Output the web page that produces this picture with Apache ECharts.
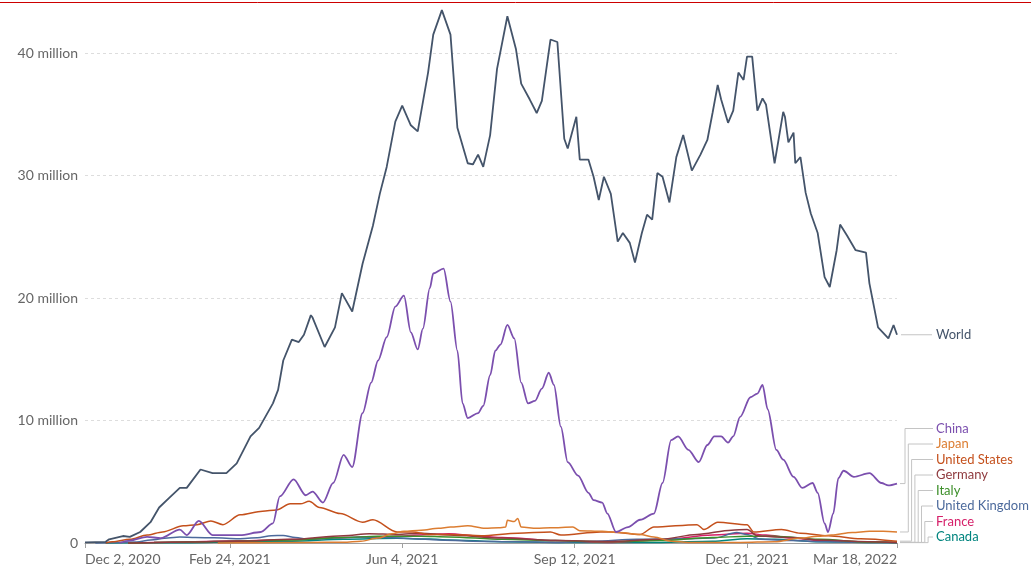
<!DOCTYPE html>
<html>
<head>
<meta charset="utf-8">
<script src="https://cdn.jsdelivr.net/npm/echarts/dist/echarts.min.js"></script>
<style>
    html, body { margin: 0; padding: 0; background: #fff; }
    #chart { width: 1031px; height: 570px; }
</style>
</head>
<body>
<div id="chart"></div>
<script>
// x values are days since Dec 2, 2020, y values are daily doses in millions
var tickDays = [0, 84, 184, 284, 384, 471];
var tickLabels = ['Dec 2, 2020', 'Feb 24, 2021', 'Jun 4, 2021', 'Sep 12, 2021', 'Dec 21, 2021', 'Mar 18, 2022'];
var yTicks = [0, 10, 20, 30, 40];

var world = [[0,0.05],[12,0.1],[14,0.3],[22,0.57],[26,0.5],[32,0.9],[38,1.7],[43,2.9],[49,3.7],[55,4.5],[59,4.5],
    [67,6.0],[74,5.7],[82,5.7],[88,6.5],[96,8.7],[101,9.4],[109,11.4],[112,12.5],[115,14.9],[120,16.6],[124,16.4],
    [127,17],[131,18.6],[132,18.4],[139,16],[145,17.6],[149,20.4],[155,18.9],[161,22.8],[167,25.9],[171,28.5],
    [175,30.7],[180,34.4],[184,35.7],[189,34.1],[193,33.6],[199,38.4],[202,41.5],[207,43.5],[212,41.5],[216,33.9],
    [222,31],[225,30.9],[228,31.7],[231,30.7],[235,33.3],[239,38.7],[245,43],[250,40.3],[253,37.5],[258,36.2],
    [262,35.1],[265,36.1],[270,41.1],[274,40.9],[278,33],[280,32.2],[285,34.8],[287,31.3],[292,31.3],[295,29.9],
    [298,28],[301,29.9],[305,28.5],[309,24.6],[312,25.3],[316,24.5],[319,22.9],[323,25.3],[326,26.8],[329,26.4],
    [332,30.2],[335,29.9],[339,27.8],[343,31.5],[347,33.3],[352,30.4],[357,31.7],[361,32.9],[364,35.1],[367,37.4],
    [369,36.2],[373,34.3],[376,35.3],[379,38.4],[382,37.8],[384,39.7],[387,39.7],[390,35.3],[393,36.3],[395,35.8],
    [400,31],[405,35.2],[406,34.8],[408,32.7],[411,33.5],[412,31],[415,31.5],[418,28.6],[421,26.9],[425,25.3],
    [429,21.7],[432,20.9],[436,23.9],[438,26],[442,25.1],[447,23.9],[453,23.7],[455,21.2],[460,17.6],[466,16.7],
    [469,17.8],[471,17]];

var china = [[20,0],[26,0.2],[36,0.5],[44,0.4],[55,1.1],[59,0.65],[66,1.8],[74,0.65],[90,0.65],[102,0.9],[109,1.6],
    [113,3.8],[121,5.2],[128,3.9],[132,4.2],[138,3.3],[144,4.9],[150,7.2],[155,6.2],[161,10.6],[166,13.1],[170,14.9],
    [175,16.8],[180,19.3],[185,20.2],[189,17.2],[193,15.8],[196,17.5],[200,20.8],[202,22],[208,22.4],[212,19.7],
    [216,15.7],[219,11.4],[222,10.2],[228,10.6],[231,11.2],[235,13.7],[238,15.7],[241,16.2],[245,17.8],[249,16.7],
    [253,13.1],[257,11.4],[261,11.6],[265,12.6],[269,13.9],[272,12.9],[276,9.5],[280,6.6],[286,5.5],[292,4.1],
    [295,3.5],[300,3.3],[303,2.4],[308,0.9],[315,1.3],[322,1.9],[330,2.4],[335,4.9],[340,8.4],[344,8.7],[350,7.6],
    [356,6.6],[361,8],[365,8.7],[369,8.7],[373,8.2],[376,8.7],[380,10.3],[386,11.9],[390,12.2],[393,12.9],[396,10.9],
    [401,7.6],[405,6.8],[411,5.4],[416,4.5],[422,4.9],[425,4.1],[429,1.6],[431,0.9],[434,2.4],[437,5.3],[440,5.9],
    [446,5.4],[455,5.7],[462,4.9],[466,4.7],[471,4.85]];

var japan = [[77,0],[100,0.03],[130,0.05],[150,0.06],[160,0.15],[170,0.4],[178,0.75],[185,0.95],[195,1.05],[205,1.2],
    [212,1.3],[222,1.4],[232,1.2],[240,1.25],[244,1.3],[245,1.85],[249,1.75],[251,2.0],[253,1.3],[262,1.2],[270,1.25],
    [283,1.3],[287,1.0],[300,0.95],[310,0.85],[322,0.7],[330,0.5],[340,0.15],[350,0.05],[380,0.05],[400,0.1],
    [415,0.4],[425,0.55],[433,0.65],[445,0.85],[455,0.95],[463,0.95],[471,0.9]];

var unitedStates = [[12,0],[16,0.1],[26,0.3],[36,0.65],[45,0.9],[57,1.4],[65,1.5],[73,1.8],[80,1.5],[90,2.3],[103,2.6],
    [111,2.7],[119,3.2],[125,3.2],[130,3.4],[136,2.9],[148,2.4],[161,1.7],[167,1.9],[181,0.9],[190,0.9],[200,0.7],
    [212,0.7],[230,0.6],[251,0.8],[270,0.9],[276,0.65],[299,0.9],[305,0.9],[322,0.7],[330,1.3],[355,1.5],[359,1.1],
    [367,1.7],[384,1.5],[388,0.9],[404,1.1],[415,0.8],[431,0.6],[450,0.35],[471,0.15]];

var germany = [[25,0],[40,0.05],[61,0.08],[89,0.15],[120,0.3],[150,0.6],[165,0.75],[181,0.7],[195,0.8],[211,0.65],
    [242,0.4],[273,0.2],[303,0.12],[334,0.3],[355,0.7],[375,1.05],[384,1.1],[390,0.6],[400,0.5],[410,0.45],
    [426,0.25],[454,0.1],[471,0.05]];

var italy = [[25,0],[40,0.05],[61,0.08],[89,0.15],[120,0.25],[150,0.45],[170,0.55],[195,0.55],[211,0.5],[242,0.3],
    [273,0.2],[303,0.1],[334,0.2],[364,0.45],[384,0.55],[400,0.55],[426,0.3],[454,0.08],[471,0.05]];

var unitedKingdom = [[6,0],[15,0.05],[30,0.08],[38,0.25],[48,0.4],[55,0.48],[64,0.45],[75,0.42],[89,0.35],[100,0.42],
    [108,0.6],[115,0.62],[122,0.45],[130,0.3],[145,0.4],[160,0.5],[175,0.45],[190,0.35],[205,0.25],[225,0.15],
    [250,0.1],[275,0.05],[295,0.15],[320,0.3],[345,0.35],[365,0.4],[378,0.85],[384,0.7],[392,0.3],[410,0.2],
    [430,0.1],[455,0.05],[471,0.04]];

var france = [[25,0],[40,0.05],[61,0.1],[89,0.18],[120,0.28],[150,0.45],[181,0.55],[200,0.7],[211,0.75],[230,0.55],
    [242,0.45],[273,0.2],[303,0.05],[334,0.25],[364,0.65],[384,0.8],[395,0.65],[410,0.4],[426,0.2],[454,0.08],
    [471,0.05]];

var canada = [[12,0],[30,0.02],[61,0.03],[89,0.08],[120,0.15],[150,0.3],[181,0.38],[200,0.33],[211,0.25],[242,0.1],
    [273,0.05],[303,0.04],[334,0.05],[364,0.15],[384,0.35],[400,0.3],[426,0.1],[454,0.05],[471,0.03]];

var seriesNames = ['World', 'China', 'Japan', 'United States', 'Germany', 'Italy', 'United Kingdom', 'France', 'Canada'];
var seriesData = [world, china, japan, unitedStates, germany, italy, unitedKingdom, france, canada];
var seriesColors = ['#44546a', '#7b4fae', '#dc7d31', '#c4501c', '#8f3a3e', '#3d8f2a', '#4c6a9c', '#d61f69', '#00847e'];

var chart = echarts.init(document.getElementById('chart'));

var series = [];
for (var i = seriesData.length - 1; i >= 0; i--) {
    series.push({
        name: seriesNames[i],
        type: 'line',
        data: seriesData[i],
        symbol: 'none',
        clip: false,
        smooth: i === 0 ? false : 0.3,
        smoothMonotone: 'x',
        lineStyle: { color: seriesColors[i], width: i < 2 ? 1.8 : 1.5 },
        itemStyle: { color: seriesColors[i] },
        animation: false
    });
}

chart.setOption({
    animation: false,
    textStyle: { fontFamily: 'Lato' },
    grid: { left: 85, right: 134, top: 53, bottom: 27 },
    xAxis: {
        type: 'value',
        min: 0,
        max: 471,
        splitLine: { show: false },
        axisLine: { show: true, lineStyle: { color: '#a0a0a0' } },
        axisTick: { show: true, length: 5, customValues: tickDays, lineStyle: { color: '#a0a0a0' } },
        axisLabel: {
            customValues: tickDays,
            color: '#666',
            fontSize: 14,
            margin: 9,
            alignMinLabel: 'left',
            alignMaxLabel: 'right',
            formatter: function (v) {
                return tickLabels[tickDays.indexOf(v)];
            }
        }
    },
    yAxis: {
        type: 'value',
        min: 0,
        max: 40,
        interval: 10,
        axisLine: { show: false },
        axisTick: { show: false },
        splitLine: { lineStyle: { color: '#dddddd', type: [3, 3] } },
        axisLabel: {
            color: '#666',
            fontSize: 14,
            margin: 7,
            formatter: function (v) {
                return v === 0 ? '0' : v + ' million';
            }
        }
    },
    series: series
});

// end labels with stepped connectors
var graphics = [{
    type: 'line',
    shape: { x1: 0, y1: 2.5, x2: 1031, y2: 2.5 },
    style: { stroke: '#cc0000', lineWidth: 1 },
    silent: true
}];
var endX = chart.convertToPixel({ gridIndex: 0 }, [471, 0])[0];
var bottomY = chart.convertToPixel({ gridIndex: 0 }, [471, 0])[1] - 6;
var labelX = 936;
var lineGap = 15.5;
var prevY = bottomY + lineGap;
for (var k = seriesData.length - 1; k >= 0; k--) {
    var pts = seriesData[k];
    var last = pts[pts.length - 1];
    var anchorY = chart.convertToPixel({ gridIndex: 0 }, last)[1];
    var labelY = Math.min(anchorY, prevY - lineGap);
    prevY = labelY;
    var points;
    if (k === 0) {
        points = [[endX + 4, anchorY], [labelX - 4, labelY]];
    } else {
        var vx = endX + 8 + (k - 1) * 3.3;
        points = [[endX + 3, anchorY], [vx, anchorY], [vx, labelY], [labelX - 3, labelY]];
    }
    graphics.push({
        type: 'polyline',
        shape: { points: points },
        style: { stroke: '#c4c4c4', lineWidth: 1, fill: null },
        silent: true
    });
    graphics.push({
        type: 'text',
        x: labelX,
        y: labelY,
        style: {
            text: seriesNames[k],
            fill: seriesColors[k],
            fontSize: 13,
            fontFamily: 'Lato',
            verticalAlign: 'middle'
        },
        silent: true
    });
}
chart.setOption({ graphic: graphics });
</script>
</body>
</html>
